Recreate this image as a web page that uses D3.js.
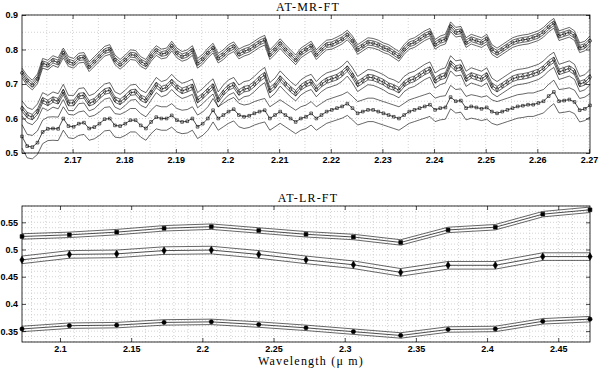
<!DOCTYPE html>
<html>
<head>
<meta charset="utf-8">
<script src="https://cdn.jsdelivr.net/npm/d3@7"></script>
<style>
  body { margin: 0; background: #fff; }
  svg { display: block; }
  .tick text { font-family: "Liberation Sans", Arial, sans-serif; font-weight: bold; font-size: 9px; fill: #000; }
  .ttl { font-family: "Liberation Serif", "Times New Roman", serif; font-size: 12px; letter-spacing: 1.2px; }
</style>
</head>
<body>
<svg id="chart" width="600" height="369"></svg>
<script>
// medium resolution panel (AT-MR-FT)
var mrWave = [
  2.1602,2.1612,2.1622,2.1632,2.1642,2.1652,2.1662,2.1672,2.1682,2.1692,
  2.1702,2.1712,2.1722,2.1732,2.1742,2.1752,2.1762,2.1772,2.1782,2.1792,
  2.1802,2.1812,2.1822,2.1832,2.1842,2.1852,2.1862,2.1872,2.1882,2.1892,
  2.1902,2.1912,2.1922,2.1932,2.1942,2.1952,2.1962,2.1972,2.1982,2.1992,
  2.2002,2.2012,2.2022,2.2032,2.2042,2.2052,2.2062,2.2072,2.2082,2.2092,
  2.2102,2.2112,2.2122,2.2132,2.2142,2.2152,2.2162,2.2172,2.2182,2.2192,
  2.2202,2.2212,2.2222,2.2232,2.2242,2.2252,2.2262,2.2272,2.2282,2.2292,
  2.2302,2.2312,2.2322,2.2332,2.2342,2.2352,2.2362,2.2372,2.2382,2.2392,
  2.2402,2.2412,2.2422,2.2432,2.2442,2.2452,2.2462,2.2472,2.2482,2.2492,
  2.2502,2.2512,2.2522,2.2532,2.2542,2.2552,2.2562,2.2572,2.2582,2.2592,
  2.2602,2.2612,2.2622,2.2632,2.2642,2.2652,2.2662,2.2672,2.2682,2.2692,
  2.2702
];
var mrTop = [
  0.732,0.710,0.697,0.715,0.760,0.755,0.768,0.762,0.790,0.765,
  0.760,0.775,0.777,0.750,0.765,0.780,0.795,0.800,0.770,0.757,
  0.770,0.785,0.783,0.765,0.757,0.780,0.797,0.787,0.790,0.810,
  0.790,0.780,0.785,0.797,0.760,0.772,0.790,0.804,0.775,0.785,
  0.800,0.808,0.787,0.795,0.800,0.810,0.820,0.827,0.785,0.800,
  0.817,0.800,0.785,0.770,0.790,0.800,0.810,0.785,0.800,0.813,
  0.815,0.822,0.830,0.842,0.825,0.800,0.810,0.820,0.818,0.813,
  0.805,0.800,0.790,0.780,0.800,0.815,0.820,0.830,0.840,0.847,
  0.815,0.825,0.830,0.866,0.850,0.853,0.820,0.830,0.825,0.820,
  0.830,0.800,0.790,0.800,0.810,0.820,0.825,0.828,0.830,0.835,
  0.840,0.850,0.865,0.876,0.840,0.845,0.850,0.840,0.805,0.810,
  0.825
];
var mrMid = [
  0.629,0.610,0.604,0.620,0.653,0.645,0.655,0.650,0.677,0.645,
  0.645,0.665,0.667,0.644,0.650,0.665,0.678,0.682,0.655,0.648,
  0.660,0.675,0.677,0.660,0.653,0.675,0.697,0.685,0.690,0.706,
  0.690,0.680,0.685,0.692,0.653,0.665,0.680,0.693,0.655,0.675,
  0.690,0.697,0.675,0.685,0.688,0.700,0.715,0.726,0.682,0.695,
  0.716,0.700,0.685,0.673,0.690,0.700,0.706,0.685,0.700,0.710,
  0.715,0.720,0.730,0.745,0.725,0.700,0.710,0.720,0.718,0.712,
  0.705,0.695,0.690,0.682,0.700,0.710,0.715,0.725,0.735,0.742,
  0.710,0.720,0.725,0.760,0.745,0.748,0.715,0.725,0.720,0.715,
  0.725,0.695,0.685,0.695,0.705,0.715,0.720,0.722,0.725,0.730,
  0.735,0.745,0.760,0.770,0.735,0.740,0.745,0.735,0.700,0.705,
  0.720
];
var mrLow = [
  0.548,0.520,0.517,0.530,0.561,0.570,0.571,0.570,0.600,0.578,
  0.576,0.585,0.588,0.571,0.575,0.585,0.598,0.600,0.580,0.578,
  0.585,0.595,0.595,0.580,0.571,0.590,0.604,0.600,0.600,0.609,
  0.595,0.590,0.592,0.600,0.576,0.585,0.600,0.624,0.600,0.610,
  0.620,0.627,0.610,0.605,0.608,0.615,0.620,0.624,0.600,0.610,
  0.620,0.610,0.600,0.590,0.600,0.605,0.615,0.600,0.610,0.620,
  0.625,0.630,0.635,0.643,0.630,0.615,0.620,0.625,0.625,0.620,
  0.615,0.610,0.605,0.600,0.610,0.620,0.625,0.630,0.635,0.640,
  0.625,0.630,0.632,0.662,0.650,0.652,0.630,0.635,0.632,0.628,
  0.632,0.620,0.615,0.620,0.625,0.630,0.635,0.637,0.640,0.640,
  0.645,0.650,0.665,0.677,0.650,0.652,0.655,0.648,0.624,0.628,
  0.638
];
// half widths of the bands drawn around each curve
var mrBandTop = [0.007, 0.014];
var mrBandMid = [0.008, 0.022];
var mrBandLow = [0.034];
var mrXTicks = [2.17,2.18,2.19,2.2,2.21,2.22,2.23,2.24,2.25,2.26,2.27];
var mrYTicks = [0.5,0.6,0.7,0.8,0.9];

// low resolution panel (AT-LR-FT)
var lrWave = [2.0733,2.1066,2.1398,2.1731,2.2063,2.2396,2.2728,2.3061,2.3393,2.3726,2.4058,2.4391,2.4723];
var lrTop = [0.524,0.527,0.532,0.539,0.542,0.535,0.528,0.523,0.513,0.536,0.541,0.565,0.573];
var lrMid = [0.481,0.491,0.492,0.498,0.499,0.491,0.481,0.472,0.458,0.471,0.471,0.487,0.487];
var lrLow = [0.354,0.360,0.361,0.366,0.367,0.362,0.356,0.349,0.342,0.353,0.354,0.368,0.372];
var lrBandTop = [0.005];
var lrBandMid = [0.007];
var lrBandLow = [0.005];
var lrXTicks = [2.1,2.15,2.2,2.25,2.3,2.35,2.4,2.45];
var lrYTicks = [0.35,0.4,0.45,0.5,0.55];

var svg = d3.select("#chart");

function drawPanel(opt){
  var w = opt.x1 - opt.x0, h = opt.y1 - opt.y0;
  var x = d3.scaleLinear().domain(opt.xDom).range([0, w]);
  var y = d3.scaleLinear().domain(opt.yDom).range([h, 0]);
  var g = svg.append("g").attr("transform", "translate(" + opt.x0 + "," + opt.y0 + ")");

  // dotted grid, minor and major together
  var grid = g.append("g").attr("stroke", "#c8c8c8").attr("stroke-dasharray", "1,2").attr("stroke-width", 0.8);
  var gx = d3.range(Math.ceil(opt.xDom[0]/opt.xMinor - 1e-6), Math.floor(opt.xDom[1]/opt.xMinor + 1e-6) + 1).map(k => k*opt.xMinor);
  var gy = d3.range(Math.ceil(opt.yDom[0]/opt.yMinor - 1e-6), Math.floor(opt.yDom[1]/opt.yMinor + 1e-6) + 1).map(k => k*opt.yMinor);
  grid.selectAll(null).data(gx).enter().append("line")
    .attr("x1", d => x(d)).attr("x2", d => x(d)).attr("y1", 0).attr("y2", h);
  grid.selectAll(null).data(gy).enter().append("line")
    .attr("y1", d => y(d)).attr("y2", d => y(d)).attr("x1", 0).attr("x2", w);

  var line = d3.line().x((d,i) => x(opt.wave[i])).y(d => y(d));
  opt.series.forEach(function(s){
    s.band.forEach(function(b){
      [b, -b].forEach(function(sg){
        g.append("path").datum(s.vals.map(v => v + sg))
          .attr("d", line).attr("fill", "none").attr("stroke", "#000").attr("stroke-width", 0.6);
      });
    });
    g.append("path").datum(s.vals).attr("d", line)
      .attr("fill", "none").attr("stroke", "#000").attr("stroke-width", 0.7);
    var sym = d3.symbol().type(s.sym).size(s.size);
    g.selectAll(null).data(s.vals).enter().append("path")
      .attr("d", sym)
      .attr("transform", (d,i) => "translate(" + x(opt.wave[i]) + "," + y(d) + ")")
      .attr("fill", s.fill ? "#000" : "none")
      .attr("stroke", "#000").attr("stroke-width", 0.6);
  });

  // axes with inward ticks, on all four sides
  var fmt = d3.format("");
  g.append("g").attr("transform", "translate(0," + h + ")")
    .call(d3.axisBottom(x).tickValues(opt.xTicks).tickSize(-4).tickPadding(4).tickFormat(fmt))
    .call(a => a.select(".domain").remove());
  g.append("g").call(d3.axisTop(x).tickValues(opt.xTicks).tickSize(-4).tickFormat(""))
    .call(a => a.select(".domain").remove());
  g.append("g")
    .call(d3.axisLeft(y).tickValues(opt.yTicks).tickSize(-4).tickPadding(4).tickFormat(fmt))
    .call(a => a.select(".domain").remove());
  g.append("g").attr("transform", "translate(" + w + ",0)")
    .call(d3.axisRight(y).tickValues(opt.yTicks).tickSize(-4).tickFormat(""))
    .call(a => a.select(".domain").remove());
  g.selectAll(".tick line").attr("stroke", "#000").attr("stroke-width", 0.7);

  g.append("rect").attr("width", w).attr("height", h)
    .attr("fill", "none").attr("stroke", "#000").attr("stroke-width", 0.8);

  g.append("text").attr("class", "ttl").attr("x", w/2 + 2).attr("y", -4)
    .attr("text-anchor", "middle").text(opt.title);
  if(opt.xLabel){
    g.append("text").attr("class", "ttl").attr("x", w/2 + 5).attr("y", h + 23)
      .attr("text-anchor", "middle").text(opt.xLabel);
  }
}

drawPanel({
  x0: 22, x1: 590, y0: 15, y1: 153,
  xDom: [2.1602, 2.2702], yDom: [0.5, 0.9],
  xMinor: 0.005, yMinor: 0.05,
  xTicks: mrXTicks, yTicks: mrYTicks,
  wave: mrWave,
  title: "AT-MR-FT",
  series: [
    {vals: mrTop, band: mrBandTop, sym: d3.symbolCircle, size: 7, fill: false},
    {vals: mrMid, band: mrBandMid, sym: d3.symbolDiamond, size: 7, fill: false},
    {vals: mrLow, band: mrBandLow, sym: d3.symbolSquare, size: 7, fill: false}
  ]
});

drawPanel({
  x0: 22, x1: 590, y0: 206, y1: 342,
  xDom: [2.0733, 2.4723], yDom: [0.33, 0.58],
  xMinor: 0.01, yMinor: 0.01,
  xTicks: lrXTicks, yTicks: lrYTicks,
  wave: lrWave,
  title: "AT-LR-FT",
  xLabel: "Wavelength (\u03bc m)",
  series: [
    {vals: lrTop, band: lrBandTop, sym: d3.symbolSquare, size: 14, fill: true},
    {vals: lrMid, band: lrBandMid, sym: d3.symbolDiamond, size: 16, fill: true},
    {vals: lrLow, band: lrBandLow, sym: d3.symbolCircle, size: 14, fill: true}
  ]
});
</script>
</body>
</html>
